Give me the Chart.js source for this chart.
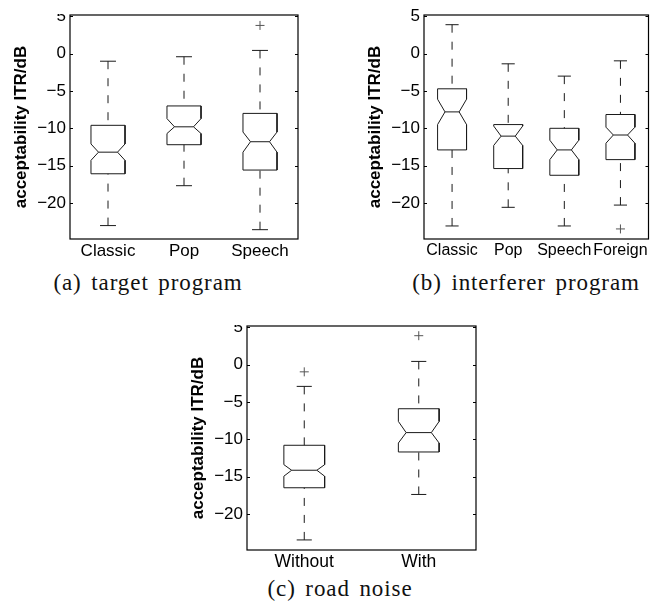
<!DOCTYPE html>
<html>
<head>
<meta charset="utf-8">
<script src="https://cdn.jsdelivr.net/npm/chart.js@4"></script>
<style>
  body { margin: 0; background: #fff; width: 654px; height: 604px; position: relative; overflow: hidden; }
  .wrap { position: absolute; overflow: hidden; }
  .wrap canvas { position: absolute; left: 0; }
  .cap { position: absolute; font-family: "Liberation Serif", serif; font-size: 23px; color: #111;
         white-space: nowrap; transform: translateX(-50%); letter-spacing: 0.9px; word-spacing: 3px; }
</style>
</head>
<body>
<div class="wrap" id="wrapA"><canvas id="chartA"></canvas></div>
<div class="wrap" id="wrapB"><canvas id="chartB"></canvas></div>
<div class="wrap" id="wrapC"><canvas id="chartC"></canvas></div>
<div class="cap" style="left:148px; top:270px">(a) target program</div>
<div class="cap" style="left:526px; top:270px">(b) interferer program</div>
<div class="cap" style="left:340px; top:576px">(c) road noise</div>

<script>
// ========== Data (dB) ==========
const yTicks = [-20, -15, -10, -5, 0, 5];
const yTitle = "acceptability ITR/dB";

// (a) target program
const targetCats = ["Classic", "Pop", "Speech"];
const targetWhiskerHigh = [-1.0, -0.4, 0.45];
const targetQ3 = [-9.6, -7.0, -8.0];
const targetNotchHigh = [-12.1, -8.7, -10.5];
const targetMedian = [-13.2, -9.8, -11.8];
const targetNotchLow = [-14.3, -10.7, -13.2];
const targetQ1 = [-16.1, -12.2, -15.6];
const targetWhiskerLow = [-23.05, -17.7, -23.6];
const targetOutliers = [[], [], [3.8]];

// (b) interferer program
const interfCats = ["Classic", "Pop", "Speech", "Foreign"];
const interfWhiskerHigh = [3.9, -1.35, -3.0, -0.95];
const interfQ3 = [-4.7, -9.5, -10.0, -8.15];
const interfNotchHigh = [-6.1, -9.7, -11.6, -9.85];
const interfMedian = [-7.8, -11.05, -12.9, -10.9];
const interfNotchLow = [-9.5, -12.3, -14.2, -12.0];
const interfQ1 = [-12.9, -15.4, -16.3, -14.2];
const interfWhiskerLow = [-23.1, -20.6, -23.1, -20.3];
const interfOutliers = [[], [], [], [-23.5]];

// (c) road noise
const noiseCats = ["Without", "With"];
const noiseWhiskerHigh = [-2.9, 0.45];
const noiseQ3 = [-10.8, -5.9];
const noiseNotchHigh = [-13.4, -7.6];
const noiseMedian = [-14.15, -9.1];
const noiseNotchLow = [-14.95, -10.5];
const noiseQ1 = [-16.5, -11.7];
const noiseWhiskerLow = [-23.5, -17.4];
const noiseOutliers = [[-0.95], [3.9]];

const FONT = "'Liberation Sans', Arial, sans-serif";

// ========== Frame + inward ticks (MATLAB look) ==========
const framePlugin = {
  id: "frame",
  afterDraw(chart) {
    const { ctx, chartArea: a, scales } = chart;
    ctx.save();
    ctx.strokeStyle = "#000";
    ctx.lineWidth = 1.2;
    ctx.strokeRect(a.left, a.top, a.right - a.left, a.bottom - a.top);
    ctx.lineWidth = 1;
    ctx.beginPath();
    scales.y.ticks.forEach((t) => {
      const y = Math.round(scales.y.getPixelForValue(t.value)) + 0.5;
      ctx.moveTo(a.left, y); ctx.lineTo(a.left + 3, y);
      ctx.moveTo(a.right, y); ctx.lineTo(a.right - 3, y);
    });
    ctx.stroke();
    ctx.restore();
  },
};

// ========== Notched box plot from the stats arrays ==========
function boxChart(id, wrapId, cats, s, outliers, look) {
  const boxPts = [], medPts = [], capPts = [], whiskPts = [], outPts = [];
  cats.forEach((_, i) => {
    const c = i + 1, w = look.box, n = look.notch, k = look.cap;
    boxPts.push(
      { x: c - w, y: s.q3[i] }, { x: c + w, y: s.q3[i] },
      { x: c + w, y: s.nHi[i] }, { x: c + n, y: s.med[i] }, { x: c + w, y: s.nLo[i] },
      { x: c + w, y: s.q1[i] }, { x: c - w, y: s.q1[i] },
      { x: c - w, y: s.nLo[i] }, { x: c - n, y: s.med[i] }, { x: c - w, y: s.nHi[i] },
      { x: c - w, y: s.q3[i] }, { x: c, y: null });
    medPts.push({ x: c - n, y: s.med[i] }, { x: c + n, y: s.med[i] }, { x: c, y: null });
    capPts.push({ x: c - k, y: s.hi[i] }, { x: c + k, y: s.hi[i] }, { x: c, y: null },
                { x: c - k, y: s.lo[i] }, { x: c + k, y: s.lo[i] }, { x: c, y: null });
    whiskPts.push({ x: c, y: s.hi[i] }, { x: c, y: s.q3[i] }, { x: c, y: null },
                  { x: c, y: s.lo[i] }, { x: c, y: s.q1[i] }, { x: c, y: null });
    outliers[i].forEach((v) => outPts.push({ x: c, y: v }));
  });

  const p = look.pos;
  const wrap = document.getElementById(wrapId);
  wrap.style.left = p.left + "px";
  wrap.style.top = p.clipTop + "px";
  wrap.style.width = p.w + "px";
  wrap.style.height = (p.top + p.h - p.clipTop) + "px";
  const canvas = document.getElementById(id);
  canvas.width = p.w;
  canvas.height = p.h;
  canvas.style.top = (p.top - p.clipTop) + "px";

  const line = { type: "line", showLine: true, pointRadius: 0, borderColor: "#1a1a1a",
                 borderWidth: 1, tension: 0, spanGaps: false, fill: false };

  return new Chart(canvas.getContext("2d"), {
    type: "line",
    data: {
      datasets: [
        { ...line, data: boxPts },
        { ...line, data: medPts },
        { ...line, data: capPts },
        { ...line, data: whiskPts, borderDash: [8, 9] },
        { type: "line", showLine: false, data: outPts, pointStyle: "cross", pointRadius: 4.5,
          borderColor: "#555", borderWidth: 1 },
      ],
    },
    options: {
      responsive: false,
      animation: false,
      devicePixelRatio: 1,
      layout: { padding: { left: 0, top: p.T - p.top, right: p.left + p.w - p.R, bottom: 0 } },
      plugins: { legend: { display: false }, tooltip: { enabled: false } },
      scales: {
        x: {
          type: "linear", min: 0.5, max: cats.length + 0.5,
          afterBuildTicks: (sc) => { sc.ticks = cats.map((_, i) => ({ value: i + 1 })); },
          afterFit: (sc) => { sc.height = p.top + p.h - p.B; sc.paddingLeft = 0; sc.paddingRight = 0; },
          grid: { display: false, drawTicks: false },
          border: { display: false },
          ticks: { callback: (v) => cats[Math.round(v) - 1], color: "#000", padding: 2,
                   maxRotation: 0, autoSkip: false, font: { family: FONT, size: look.xFont } },
        },
        y: {
          min: -24.85, max: 5.2,
          afterBuildTicks: (sc) => { sc.ticks = yTicks.map((v) => ({ value: v })); },
          afterFit: (sc) => { sc.width = p.L - p.left; sc.paddingTop = 0; sc.paddingBottom = 0; },
          grid: { display: false, drawTicks: false },
          border: { display: false },
          ticks: { callback: (v) => (v < 0 ? "\u2212" + Math.abs(v) : String(v)), color: "#000",
                   padding: 4, font: { family: FONT, size: 17 } },
          title: { display: true, text: yTitle, color: "#000", padding: { top: 11, bottom: 0 },
                   font: { family: FONT, size: 17, weight: "bold" } },
        },
      },
    },
    plugins: [framePlugin],
  });
}

boxChart("chartA", "wrapA", targetCats,
  { lo: targetWhiskerLow, q1: targetQ1, nLo: targetNotchLow, med: targetMedian,
    nHi: targetNotchHigh, q3: targetQ3, hi: targetWhiskerHigh }, targetOutliers,
  { box: 0.224, notch: 0.125, cap: 0.105, xFont: 17,
    pos: { left: 0, top: 0, clipTop: 14, w: 308, h: 262, L: 70, T: 15, R: 298, B: 239 } });

boxChart("chartB", "wrapB", interfCats,
  { lo: interfWhiskerLow, q1: interfQ1, nLo: interfNotchLow, med: interfMedian,
    nHi: interfNotchHigh, q3: interfQ3, hi: interfWhiskerHigh }, interfOutliers,
  { box: 0.258, notch: 0.126, cap: 0.117, xFont: 16,
    pos: { left: 354, top: 0, clipTop: 0, w: 300, h: 262, L: 424, T: 15, R: 652, B: 239 } });

boxChart("chartC", "wrapC", noiseCats,
  { lo: noiseWhiskerLow, q1: noiseQ1, nLo: noiseNotchLow, med: noiseMedian,
    nHi: noiseNotchHigh, q3: noiseQ3, hi: noiseWhiskerHigh }, noiseOutliers,
  { box: 0.178, notch: 0.11, cap: 0.066, xFont: 17.5,
    pos: { left: 177, top: 311, clipTop: 325, w: 309, h: 262, L: 247, T: 326, R: 476, B: 550 } });
</script>
</body>
</html>
